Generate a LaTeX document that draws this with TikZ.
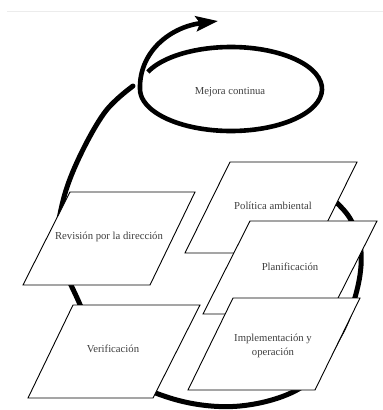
\documentclass[tikz,border=0pt]{standalone}
\usepackage{fontspec}
\setmainfont{Liberation Serif}
\usetikzlibrary{arrows.meta}
\begin{document}
\begin{tikzpicture}[x=1pt,y=-1pt,
  cyc/.style={line width=5pt,line cap=round},
  pbox/.style={draw=black,fill=white,line width=0.9pt,line join=miter},
  lbl/.style={text=black!75,font=\fontsize{10.7}{14}\selectfont,align=center,inner sep=0pt}]
\useasboundingbox (0,0) rectangle (383,410);
\draw[gray!15,line width=0.8pt] (7,11) -- (383,11);
% big cycle arrow
\draw[cyc] plot[smooth,tension=0.6] coordinates {(322,193) (337,203) (352,222) (361,252) (357,290) (340,335) (305,385) (240,406) (170,398) (110,365) (78,300) (58,250) (62,205) (78,160) (105,112) (133,86)};
% ellipse spiral with arrow
\coordinate (ellc) at (231,89);
\coordinate (tip) at (218,21);
\draw[line width=4.6pt,-{Stealth[length=22pt,width=15pt,inset=4pt]}]
  ([shift={(204:91 and 42)}]ellc) arc[start angle=204,end angle=540,x radius=91,y radius=42]
  .. controls (139,52) and (170,27) .. (tip);
\node[lbl] (mejora) at (230,92) {Mejora continua};
% boxes
\draw[pbox] (230,162) -- (357,162) -- (312,253) -- (185,253) -- cycle;
\node[lbl] (pol) at (273,206) {Política ambiental};
\draw[pbox] (250,221) -- (377,221) -- (330,314) -- (203,314) -- cycle;
\node[lbl] (plan) at (290,267) {Planificación};
\draw[pbox] (233,298) -- (360,298) -- (315,390) -- (188,390) -- cycle;
\node[lbl] (impl) at (273,346) {Implementación y\\operación};
\draw[pbox] (70,192) -- (195,192) -- (150,285) -- (23,285) -- cycle;
\node[lbl] (rev) at (109,237) {Revisión por la dirección};
\draw[pbox] (73,305) -- (200,305) -- (153,398) -- (28,398) -- cycle;
\node[lbl] (ver) at (113,349) {Verificación};
\end{tikzpicture}
\end{document}
